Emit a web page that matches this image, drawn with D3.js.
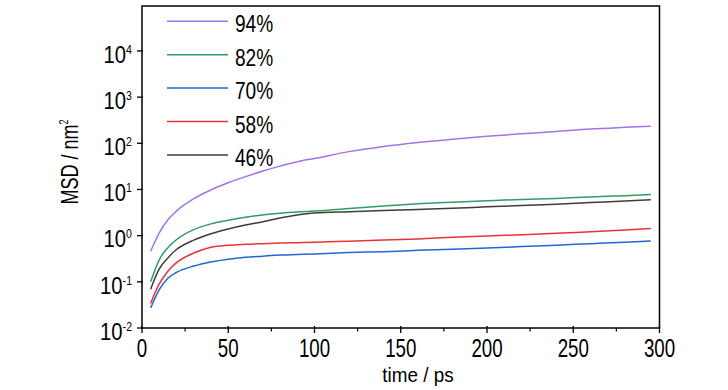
<!DOCTYPE html>
<html><head><meta charset="utf-8">
<script src="https://cdn.jsdelivr.net/npm/d3@7"></script>
<style>
html,body{margin:0;padding:0;background:#fff;}
svg{display:block;font-family:"Liberation Sans",Arial,sans-serif;}
</style></head>
<body>
<svg id="c" width="728" height="390"></svg>
<script>
const times = [5,10,15,20,30,40,50,60,70,80,90,100,120,140,160,180,200,220,240,260,280,295];
const msd94 = [0.46,1.15,2.2,3.4,6.3,9.8,14,19,25,32,40,47,66,85,104,123,142,160,180,204,222,235];
const msd82 = [0.1,0.3,0.55,0.82,1.35,1.8,2.15,2.5,2.8,3.05,3.25,3.4,3.85,4.4,4.9,5.3,5.7,6.1,6.4,6.9,7.35,7.8];
const msd70 = [0.027,0.068,0.12,0.16,0.22,0.27,0.31,0.34,0.36,0.38,0.39,0.40,0.43,0.45,0.48,0.51,0.54,0.58,0.62,0.67,0.72,0.77];
const msd58 = [0.034,0.09,0.17,0.26,0.42,0.56,0.62,0.65,0.67,0.69,0.705,0.72,0.76,0.80,0.85,0.92,0.98,1.05,1.12,1.22,1.32,1.42];
const msd46 = [0.069,0.19,0.33,0.5,0.8,1.1,1.4,1.7,2.0,2.4,2.8,3.1,3.3,3.5,3.7,3.9,4.2,4.5,4.8,5.2,5.6,6.0];
const seriesNames = ["94%","82%","70%","58%","46%"];
const seriesColors = ["#a274e6","#2f9e62","#2466d0","#e8333b","#3d3d3d"];
const xTicks = [0,50,100,150,200,250,300];
const xMinorTicks = [25,75,125,175,225,275];
const yExponents = [-2,-1,0,1,2,3,4];

const seriesValues = [msd94,msd82,msd70,msd58,msd46];
const svg = d3.select("#c");
const L=142, R=659.5, T=6, B=328;
const x = d3.scaleLinear().domain([0,300]).range([L,R]);
const y = d3.scaleLog().domain([1e-2, 9.4e4]).range([B,T]);

// frame
svg.append("rect").attr("x",L).attr("y",T).attr("width",R-L).attr("height",B-T)
  .attr("fill","none").attr("stroke","#000").attr("stroke-width",1.5);

// x axis
const gx = svg.append("g");
gx.selectAll("line.maj").data(xTicks).join("line")
  .attr("x1",d=>x(d)).attr("x2",d=>x(d)).attr("y1",B-2).attr("y2",B+5)
  .attr("stroke","#000").attr("stroke-width",1.3);
gx.selectAll("line.min").data(xMinorTicks).join("line")
  .attr("x1",d=>x(d)).attr("x2",d=>x(d)).attr("y1",B).attr("y2",B+3.5)
  .attr("stroke","#000").attr("stroke-width",1.2);
gx.selectAll("text").data(xTicks).join("text")
  .attr("transform",d=>`translate(${x(d)},357) scale(0.72,1)`)
  .attr("text-anchor","middle").attr("font-size",26).attr("fill","#000")
  .text(d=>d);

// y axis
const gy = svg.append("g");
gy.selectAll("line").data(yExponents).join("line")
  .attr("x1",L-5).attr("x2",L+1).attr("y1",d=>y(Math.pow(10,d))).attr("y2",d=>y(Math.pow(10,d)))
  .attr("stroke","#000").attr("stroke-width",1.3);
const yl = gy.selectAll("text").data(yExponents).join("text")
  .attr("transform",d=>`translate(132,${y(Math.pow(10,d))+11.8}) scale(0.88,1)`)
  .attr("text-anchor","end").attr("fill","#000");
yl.append("tspan").attr("font-size",23).text("10");
yl.append("tspan").attr("font-size",12).attr("dy",-9).text(d=>d<0?"-"+(-d):String(d));

// lines
const line = d3.line().x(d=>x(d[0])).y(d=>y(d[1])).curve(d3.curveMonotoneX);
seriesValues.forEach((vals,i)=>{
  svg.append("path").datum(times.map((t,j)=>[t,vals[j]]))
    .attr("d",line).attr("fill","none").attr("stroke",seriesColors[i]).attr("stroke-width",1.5);
});

// legend
const lg = svg.append("g");
seriesNames.forEach((n,i)=>{
  const ly = 21.3 + i*33.4;
  lg.append("line").attr("x1",167).attr("x2",228).attr("y1",ly).attr("y2",ly)
    .attr("stroke",seriesColors[i]).attr("stroke-width",1.5);
  lg.append("text").attr("transform",`translate(235,${ly+11}) scale(0.83,1)`)
    .attr("font-size",23).attr("fill","#000").text(n);
});

// axis titles
svg.append("text").attr("transform","translate(418,382) scale(0.9,1)").attr("text-anchor","middle")
  .attr("font-size",21).attr("fill","#000").text("time / ps");
const ylab = svg.append("text").attr("transform","translate(78,162) rotate(-90) scale(0.75,1)")
  .attr("text-anchor","middle").attr("font-size",24).attr("fill","#000");
ylab.append("tspan").text("MSD / nm");
ylab.append("tspan").attr("font-size",12).attr("dy",-10).text("2");
</script>
</body></html>
